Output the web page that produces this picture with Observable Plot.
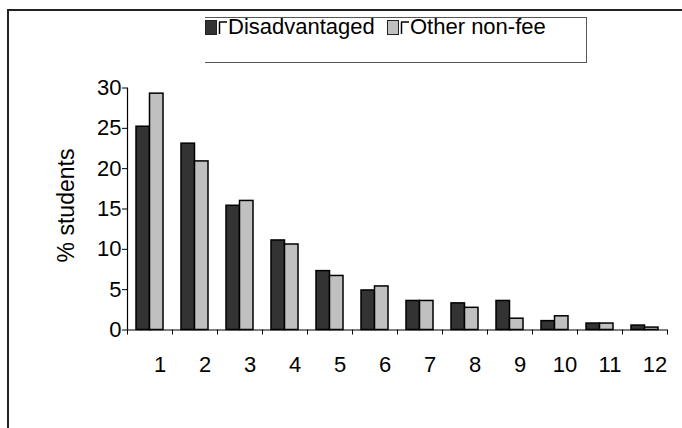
<!DOCTYPE html>
<html>
<head>
<meta charset="utf-8">
<script src="https://cdn.jsdelivr.net/npm/d3@7"></script>
<script src="https://cdn.jsdelivr.net/npm/@observablehq/plot@0.6"></script>
<style>
  html, body { margin: 0; padding: 0; background: #fff; overflow: hidden; }
  #wrap { position: relative; width: 682px; height: 428px; font-family: "Liberation Sans", Arial, sans-serif; }
  #frame { position: absolute; left: 7px; top: 9px; width: 700px; height: 440px; border-left: 2px solid #222; border-top: 2px solid #222; box-sizing: border-box; pointer-events: none; }
  #legend { position: absolute; left: 205px; top: 17px; width: 382px; height: 46px; border-top: 1px solid #555; border-right: 1px solid #555; border-bottom: 1px solid #555; box-sizing: border-box; }
  .item { position: absolute; top: -2px; display: flex; align-items: center; font-size: 22px; color: #000; line-height: 22px; white-space: nowrap; }
  .item svg { display: block; }
</style>
</head>
<body>
<div id="wrap">
  <div id="chart"></div>
  <div id="legend"></div>
  <div id="frame"></div>
</div>
<script>
const categories = [1, 2, 3, 4, 5, 6, 7, 8, 9, 10, 11, 12];
const seriesNames = ["Disadvantaged", "Other non-fee"];
const disadvantaged = [25.2, 23.1, 15.4, 11.1, 7.3, 4.9, 3.6, 3.3, 3.6, 1.1, 0.8, 0.55];
const otherNonFee = [29.3, 20.9, 16.0, 10.6, 6.7, 5.4, 3.6, 2.75, 1.4, 1.7, 0.8, 0.3];
const yTicks = [0, 5, 10, 15, 20, 25, 30];
const yLabel = "% students";
const colors = ["#333333", "#c0c0c0"];

const rowsA = categories.map((c, i) => ({cat: c, series: seriesNames[0], value: disadvantaged[i]}));
const rowsB = categories.map((c, i) => ({cat: c, series: seriesNames[1], value: otherNonFee[i]}));
const boundaries = categories.map(c => c - 0.5).concat([categories[categories.length - 1] + 0.5]);
const xDomain = [boundaries[0], boundaries[boundaries.length - 1]];

const chart = Plot.plot({
  width: 682,
  height: 428,
  marginLeft: 127,
  marginRight: 15,
  marginTop: 87.5,
  marginBottom: 98.5,
  style: {fontFamily: '"Liberation Sans", Arial, sans-serif', fontSize: "22px", background: "transparent", color: "#000"},
  x: {type: "linear", domain: xDomain, axis: null},
  y: {domain: [0, 30], axis: null},
  color: {domain: seriesNames, range: colors},
  marks: [
    Plot.rectY(rowsA, {x1: d => d.cat - 0.5, x2: d => d.cat + 0.5, y: "value", fill: "series", stroke: "#000", strokeWidth: 1.5, insetLeft: 9, insetRight: 22.5}),
    Plot.rectY(rowsB, {x1: d => d.cat - 0.5, x2: d => d.cat + 0.5, y: "value", fill: "series", stroke: "#000", strokeWidth: 1.5, insetLeft: 22.5, insetRight: 9}),
    Plot.ruleY([0], {x1: xDomain[0], x2: xDomain[1], stroke: "#000", strokeWidth: 1.2}),
    Plot.ruleX([xDomain[0]], {y1: 0, y2: 30, stroke: "#000", strokeWidth: 1.2}),
    Plot.axisY({ticks: yTicks, tickSize: 5, tickPadding: 1, fontSize: 22, stroke: "#000", label: null}),
    Plot.axisX({ticks: boundaries, tickFormat: () => "", tickSize: 5, stroke: "#000", label: null}),
    Plot.axisX({ticks: categories, tickSize: 0, tickPadding: 26.5, dx: 10, fontSize: 22, label: null}),
    Plot.text([yLabel], {frameAnchor: "left", textAnchor: "middle", lineAnchor: "middle", rotate: -90, dx: -61, dy: -3.5, fontSize: 23, fill: "#000"})
  ]
});
document.getElementById("chart").appendChild(chart);

const legend = document.getElementById("legend");
const legendLeft = [0, 182];
seriesNames.forEach((name, i) => {
  const item = document.createElement("div");
  item.className = "item";
  item.style.left = legendLeft[i] + "px";
  item.innerHTML = `<svg width="23" height="22" viewBox="0 0 23 22"><rect x="0.5" y="4.5" width="11" height="14" fill="${colors[i]}" stroke="#222" stroke-width="1"/><path d="M14,6 H22 M14.5,6 V18" stroke="#000" stroke-width="1.5" fill="none"/></svg><span>${name}</span>`;
  legend.appendChild(item);
});
</script>
</body>
</html>
